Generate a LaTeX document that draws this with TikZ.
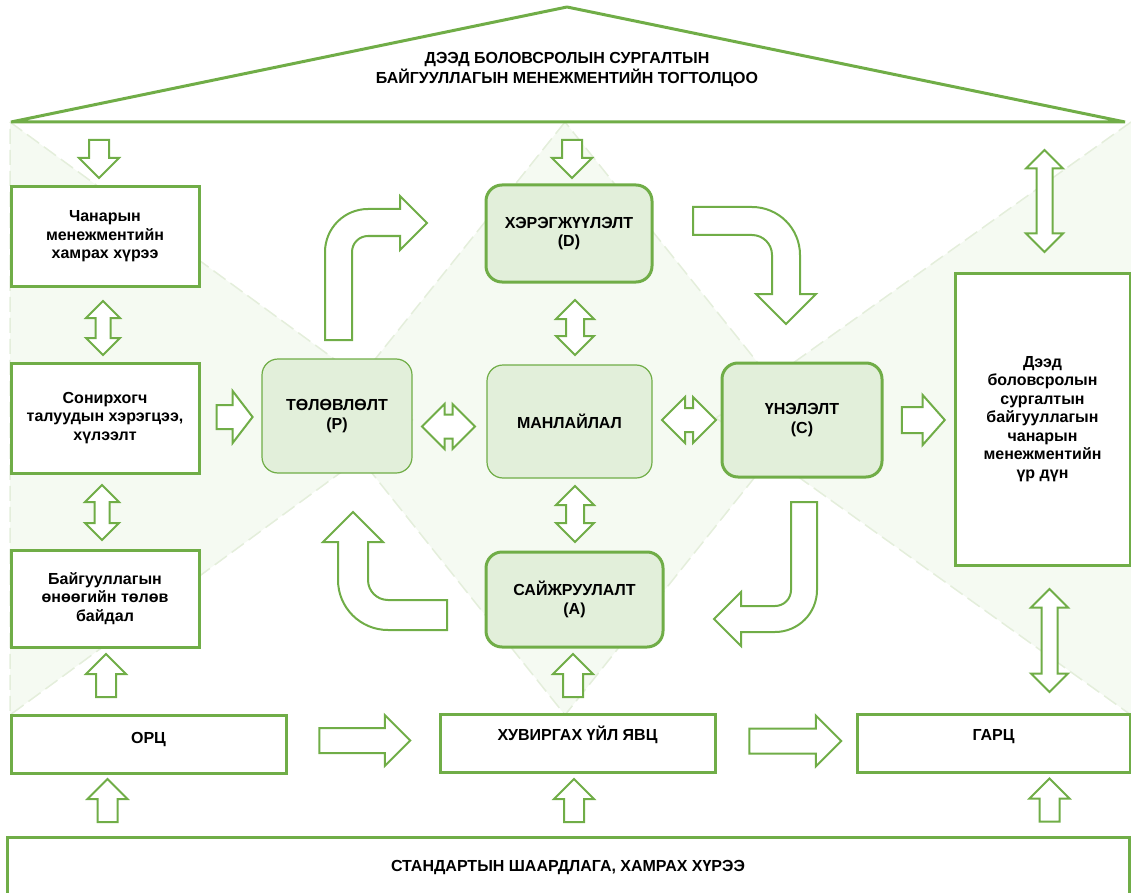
\documentclass[tikz,border=0pt]{standalone}
\usepackage{fontspec}
\setmainfont{Liberation Sans}
\usetikzlibrary{shapes.arrows}
\definecolor{qgreen}{HTML}{70AD47}
\definecolor{phasefill}{HTML}{E2EFDA}
\definecolor{bgfill}{HTML}{F5FAF2}
\definecolor{bgline}{HTML}{E4EEDB}
\tikzset{
	%Diagram styles
	plain/.style={
		draw=qgreen,
		line width=3pt,
		fill=white,
		rectangle,
		align=center,
		font=\fontsize{16}{18.5}\selectfont\bfseries,
	},
	sidebox/.style={
		plain,
		minimum width=188pt,
	},
	flowbox/.style={
		plain,
		minimum height=58pt,
		text height=11.5pt,
		text depth=17pt,
	},
	phase/.style={
		draw=qgreen,
		line width=3pt,
		fill=phasefill,
		rectangle,
		rounded corners=16pt,
		align=center,
		font=\fontsize{16}{18.5}\selectfont\bfseries,
	},
	blockarrow/.style 2 args={ % requires library shapes.arrows
		single arrow,
		draw=qgreen,
		fill=white,
		line width=2pt,
		inner xsep=0pt,
		inner ysep=#1,
		single arrow head extend=#2,
		minimum width=0pt,
	},
	dblarrow/.style 2 args={ % requires library shapes.arrows
		double arrow,
		draw=qgreen,
		fill=white,
		line width=2pt,
		inner xsep=0pt,
		inner ysep=#1,
		double arrow head extend=#2,
		minimum width=0pt,
	},
	bentarrow/.style={
		draw=qgreen,
		fill=white,
		line width=2pt,
	},
	backdrop/.style={
		draw=bgline,
		line width=1.5pt,
		dash pattern=on 15pt off 6pt,
	},
	roof/.style={
		draw=qgreen,
		line width=3pt,
		line join=bevel,
	},
}

\begin{document}
\begin{tikzpicture}[x=1pt, y=-1pt]
	\useasboundingbox (0,0) rectangle (1131,893);

	% background
	\fill[bgfill] (10,122) -- (415,418) -- (10,715) -- cycle;
	\fill[bgfill] (1131,122) -- (716,418) -- (1131,715) -- cycle;
	\fill[bgfill] (565,122) -- (328,418) -- (565,715) -- (802,418) -- cycle;
	\draw[backdrop] (10,122) -- (415,418) -- (10,715) -- cycle;
	\draw[backdrop] (1131,122) -- (716,418) -- (1131,715);
	\draw[backdrop] (565,122) -- (328,418) -- (565,715) -- (802,418) -- cycle;

	\draw[roof] (11,122) -- (567,7) -- (1125,122) -- cycle;
	\node (title) at (567,70) [align=center, font=\fontsize{16}{20}\selectfont\bfseries] {ДЭЭД БОЛОВСРОЛЫН СУРГАЛТЫН\\БАЙГУУЛЛАГЫН МЕНЕЖМЕНТИЙН ТОГТОЛЦОО};

	\node (scope) at (105,236.5) [sidebox, minimum height=99pt] {Чанарын\\менежментийн\\хамрах хүрээ};
	\node (needs) at (105,418) [sidebox, minimum height=110pt] {Сонирхогч\\талуудын хэрэгцээ,\\хүлээлт};
	\node (state) at (105,598.5) [sidebox, minimum height=97pt] {Байгууллагын\\өнөөгийн төлөв\\байдал};
	\node (input) at (148.5,744.5) [flowbox, minimum width=275pt, text depth=14pt] {ОРЦ};
	\node (process) at (577.5,743) [flowbox, minimum width=275pt] {ХУВИРГАХ ҮЙЛ ЯВЦ};
	\node (output) at (993.5,743) [flowbox, minimum width=273pt] {ГАРЦ};
	\node (result) at (1042.5,419) [plain, minimum width=175pt, minimum height=292pt] {Дээд\\боловсролын\\сургалтын\\байгууллагын\\чанарын\\менежментийн\\үр дүн};
	\node (standard) at (568,867) [plain, minimum width=1122pt, minimum height=60pt] {СТАНДАРТЫН ШААРДЛАГА, ХАМРАХ ХҮРЭЭ};

	\node (plan) at (337,416) [phase, line width=1.2pt, minimum width=150pt, minimum height=114pt] {ТӨЛӨВЛӨЛТ\\(P)};
	\node (do) at (569,233.5) [phase, minimum width=166pt, minimum height=97pt] {ХЭРЭГЖҮҮЛЭЛТ\\(D)};
	\node (lead) at (569.5,421.5) [phase, line width=1.2pt, minimum width=165pt, minimum height=113pt] {МАНЛАЙЛАЛ};
	\node (check) at (802,420) [phase, minimum width=160pt, minimum height=114pt] {ҮНЭЛЭЛТ\\(C)};
	\node (act) at (574.5,599.5) [phase, minimum width=177pt, minimum height=95pt] {САЙЖРУУЛАЛТ\\(A)};

	% straight arrows
	\node (topleft) at (99,154) [blockarrow={9pt}{10pt}, minimum height=38pt, rotate=-90] {};
	\node (topmid) at (572,154) [blockarrow={9pt}{10pt}, minimum height=38pt, rotate=-90] {};
	\node (toplan) at (230,417) [blockarrow={11pt}{14pt}, single arrow tip angle=105, minimum height=36pt] {};
	\node (toresult) at (917.5,420) [blockarrow={12pt}{12pt}, single arrow tip angle=97, minimum height=43pt] {};
	\node (upstate) at (106,680.5) [blockarrow={9pt}{10pt}, minimum height=43pt, rotate=90] {};
	\node (upinput) at (107.5,805.5) [blockarrow={9pt}{10pt}, minimum height=43pt, rotate=90] {};
	\node (upact) at (573,680.5) [blockarrow={9pt}{10pt}, minimum height=43pt, rotate=90] {};
	\node (upprocess) at (574,805.5) [blockarrow={9pt}{10pt}, minimum height=43pt, rotate=90] {};
	\node (upoutput) at (1049.5,805) [blockarrow={9pt}{10pt}, minimum height=43pt, rotate=90] {};
	\node (inflow) at (358.5,740.5) [blockarrow={11.5pt}{13pt}, minimum height=91pt] {};
	\node (outflow) at (789,741) [blockarrow={11.5pt}{13pt}, minimum height=92pt] {};

	\node (scopeneeds) at (103,328) [dblarrow={6.5pt}{9.5pt}, minimum height=54pt, rotate=90] {};
	\node (needsstate) at (102,512.5) [dblarrow={6.5pt}{9.5pt}, minimum height=55pt, rotate=90] {};
	\node (planlead) at (448.5,426.5) [dblarrow={11pt}{10.5pt}, minimum height=53pt] {};
	\node (leadcheck) at (689,420) [dblarrow={11pt}{11pt}, minimum height=54pt] {};
	\node (dolead) at (575,327.5) [dblarrow={8pt}{10pt}, minimum height=55pt, rotate=90] {};
	\node (leadact) at (575,514) [dblarrow={8pt}{10pt}, minimum height=56pt, rotate=90] {};
	\node (topright) at (1044.5,201) [dblarrow={7pt}{10.5pt}, minimum height=102pt, rotate=90] {};
	\node (resultout) at (1049.5,640.5) [dblarrow={7pt}{10.5pt}, minimum height=103pt, rotate=90] {};

	% bent arrows of the cycle
	\draw[bentarrow] (325,340) -- (325,252) arc[start angle=180, end angle=90, radius=43pt] -- (400,209) -- (400,196) -- (427,223) -- (400,250) -- (400,236) -- (368,236) arc[start angle=90, end angle=180, radius=16pt] -- (352,340) -- cycle;
	\draw[bentarrow] (693,207) -- (752,207) arc[start angle=90, end angle=0, radius=48pt] -- (800,294) -- (816,294) -- (786,324) -- (756,294) -- (772,294) -- (772,255) arc[start angle=0, end angle=90, radius=20pt] -- (693,235) -- cycle;
	\draw[bentarrow] (791,502) -- (817,502) -- (817,590) arc[start angle=0, end angle=-90, radius=42pt] -- (741,632) -- (741,646) -- (714,619) -- (741,592) -- (741,606) -- (775,606) arc[start angle=-90, end angle=0, radius=16pt] -- cycle;
	\draw[bentarrow] (447,630) -- (388,630) arc[start angle=-90, end angle=-180, radius=50pt] -- (338,542) -- (323,542) -- (353,512) -- (383,542) -- (368,542) -- (368,580) arc[start angle=180, end angle=270, radius=20pt] -- (447,600) -- cycle;
\end{tikzpicture}
\end{document}
